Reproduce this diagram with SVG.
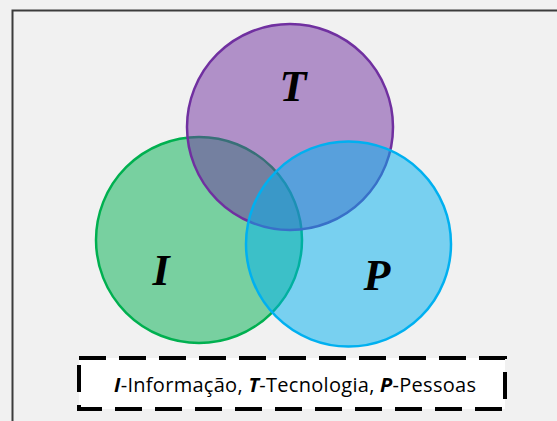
<svg xmlns="http://www.w3.org/2000/svg" width="557" height="421" viewBox="0 0 557 421">
<style>
.circ{stroke-width:2.5}
.lbl{font-family:"Liberation Serif","Times New Roman",serif;font-weight:bold;font-style:italic;font-size:44px;fill:#000;text-anchor:middle}
.leg{font-family:"Open Sans","Liberation Sans",sans-serif;font-size:20px;fill:#000}
.b{font-weight:bold;font-style:italic}
</style>
<rect x="0" y="0" width="557" height="421" fill="#f1f1f1"/>
<path d="M12.5,421 V10.5 H557" fill="none" stroke="#3c3c3c" stroke-width="2"/>
<g id="node-I">
<circle class="circ" cx="199" cy="240" r="103" fill="#00b050" fill-opacity="0.5" stroke="#00b050"/>
</g>
<g id="node-T">
<circle class="circ" cx="290" cy="127" r="103" fill="#7030a0" fill-opacity="0.5" stroke="#7030a0"/>
</g>
<g id="node-P">
<circle class="circ" cx="348.5" cy="244" r="102.5" fill="#00b0f0" fill-opacity="0.5" stroke="#00b0f0"/>
</g>
<g id="labels">
<text class="lbl" x="293" y="101">T</text>
<text class="lbl" x="161" y="285">I</text>
<text class="lbl" x="377" y="290">P</text>
</g>
<g id="legend">
<rect x="79" y="358" width="426" height="51" fill="#ffffff" stroke="#000" stroke-width="4" stroke-dasharray="27 13"/>
<text class="leg" x="114" y="392" textLength="362" lengthAdjust="spacing"><tspan class="b">I</tspan>-Informação, <tspan class="b">T</tspan>-Tecnologia, <tspan class="b">P</tspan>-Pessoas</text>
</g>
</svg>
